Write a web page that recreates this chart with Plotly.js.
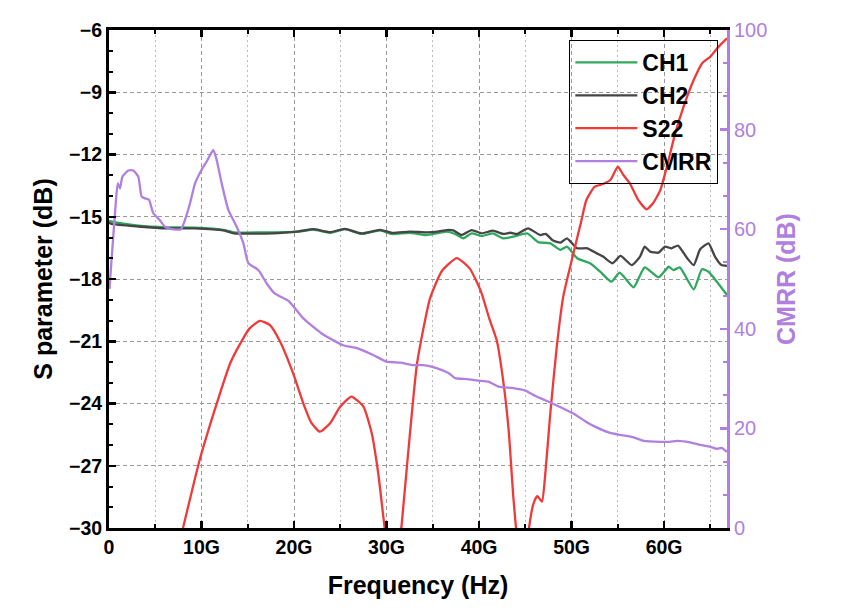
<!DOCTYPE html>
<html>
<head>
<meta charset="utf-8">
<script src="https://cdn.plot.ly/plotly-3.0.1.min.js"></script>
<style>
  html, body { margin: 0; padding: 0; background: #fff; }
  #chart { width: 854px; height: 611px; }
</style>
</head>
<body>
<div id="chart"></div>
<script>
// Frequencies in GHz
const ch1Freq = [0, 0.3, 3.2, 6.2, 9.3, 12.5, 13.5, 17.7, 20.5, 22.1, 23.9, 25.5, 27.3, 29.3, 30.6, 32.5, 34.3, 36.5, 37.4, 38.3, 39.2, 40.3, 41.5, 42.6, 43.7, 45.2, 46.4, 47.7, 48.8, 49.5, 50.6, 52.0, 53.1, 54.3, 55.2, 56.7, 57.9, 59.4, 60.5, 61.0, 61.7, 63.2, 64.1, 64.8, 65.7, 66.8];
const ch1Vals = [-15.2, -15.24, -15.43, -15.51, -15.53, -15.64, -15.75, -15.75, -15.72, -15.62, -15.77, -15.6, -15.83, -15.66, -15.83, -15.77, -15.88, -15.72, -15.83, -16.04, -15.8, -15.93, -15.8, -16.04, -15.96, -15.8, -16.22, -16.28, -16.6, -16.44, -17.0, -17.24, -17.65, -18.13, -17.69, -18.4, -17.44, -17.92, -17.41, -17.57, -17.44, -18.5, -17.53, -17.65, -18.13, -18.77];

const ch2Freq = [0, 0.3, 3.2, 6.2, 9.3, 12.5, 13.5, 17.7, 20.5, 22.1, 23.9, 25.5, 27.3, 29.3, 30.6, 32.5, 34.3, 35.5, 36.5, 37.2, 38.1, 39.2, 40.3, 41.5, 42.6, 43.4, 44.1, 45.3, 46.6, 47.2, 48.0, 48.8, 49.5, 50.6, 51.7, 52.7, 53.4, 54.4, 55.3, 56.5, 57.4, 57.9, 58.5, 59.4, 60.1, 60.8, 61.5, 62.5, 63.2, 63.9, 64.8, 65.5, 66.2, 66.8];
const ch2Vals = [-15.28, -15.35, -15.47, -15.56, -15.56, -15.67, -15.8, -15.8, -15.7, -15.6, -15.74, -15.58, -15.8, -15.63, -15.78, -15.72, -15.75, -15.72, -15.64, -15.66, -15.88, -15.64, -15.8, -15.67, -15.83, -15.77, -15.83, -15.56, -15.88, -15.83, -16.15, -16.25, -16.04, -16.52, -16.52, -16.76, -16.92, -17.24, -16.89, -17.33, -16.92, -16.44, -16.68, -16.73, -16.44, -16.52, -16.39, -17.0, -17.33, -16.57, -16.28, -16.92, -17.33, -17.37];

// S22 dips below the -30 dB floor twice; those points sit outside the axis range
const s22Freq = [8.0, 9.8, 11.6, 13.1, 14.2, 15.2, 16.3, 17.4, 18.5, 19.9, 21.0, 21.9, 22.8, 23.9, 25.0, 26.2, 27.5, 28.4, 29.1, 29.65, 30.2, 30.7, 31.2, 31.6, 32.2, 33.3, 34.7, 36.0, 37.6, 39.0, 40.2, 41.1, 41.9, 42.6, 43.2, 43.7, 44.1, 44.8, 45.4, 45.9, 46.3, 46.8, 47.1, 47.7, 48.4, 49.1, 50.2, 51.0, 51.6, 52.5, 53.4, 54.2, 55.0, 55.6, 56.3, 57.2, 58.1, 58.8, 59.6, 60.3, 61.2, 62.1, 63.2, 64.1, 65.0, 65.9, 66.8];
const s22Vals = [-30.0, -26.72, -24.07, -22.06, -21.1, -20.38, -20.02, -20.22, -21.02, -22.54, -23.99, -24.95, -25.36, -24.95, -24.15, -23.67, -24.15, -25.43, -27.36, -29.45, -31.5, -33.0, -31.5, -30.0, -27.05, -22.06, -18.93, -17.6, -16.99, -17.5, -18.6, -19.9, -20.94, -22.87, -25.28, -28.49, -30.5, -33.0, -30.0, -28.8, -28.46, -28.73, -27.69, -24.47, -21.26, -18.85, -16.76, -15.3, -14.19, -13.55, -13.42, -13.23, -12.59, -12.99, -13.39, -14.19, -14.64, -14.35, -13.71, -12.59, -10.98, -9.7, -8.41, -7.61, -7.28, -6.8, -6.4];

const cmrrFreq = [0.05, 0.3, 0.65, 0.94, 1.19, 1.44, 2.09, 2.63, 3.17, 3.53, 3.9, 4.32, 4.79, 5.5, 6.05, 6.77, 7.78, 8.2, 8.76, 9.3, 10.0, 10.56, 11.28, 11.64, 12.18, 12.9, 13.8, 14.52, 15.06, 16.14, 17.05, 17.9, 19.4, 21.0, 23.2, 25.3, 26.8, 28.6, 30.0, 31.5, 32.9, 34.0, 35.4, 36.7, 37.4, 38.7, 39.9, 41.0, 42.1, 43.7, 45.0, 46.1, 47.7, 49.1, 50.2, 51.6, 52.7, 54.0, 55.2, 56.7, 57.8, 59.6, 60.6, 61.4, 62.8, 63.9, 65.0, 65.7, 66.2, 66.8];
const cmrrVals = [48.0, 54.5, 63.2, 69.2, 68.2, 70.5, 71.8, 71.8, 70.5, 66.5, 66.2, 65.9, 63.2, 61.8, 60.5, 60.0, 60.0, 61.8, 65.2, 69.2, 71.9, 73.6, 75.9, 73.9, 69.2, 63.9, 60.5, 57.2, 53.2, 51.8, 49.1, 47.1, 45.6, 42.1, 38.8, 36.7, 36.1, 34.7, 33.4, 33.2, 32.7, 32.7, 32.1, 31.1, 30.1, 29.9, 29.6, 29.4, 28.4, 28.1, 27.6, 26.5, 25.2, 24.0, 23.0, 21.3, 20.2, 19.2, 18.7, 18.2, 17.5, 17.3, 17.3, 17.5, 17.2, 16.7, 16.3, 15.9, 16.1, 15.3];

const FONT = 'Liberation Sans, Arial, sans-serif';
const PURPLE = '#b07fe0';
const toHz = arr => arr.map(f => f * 1e9);

function series(freq, vals, name, color, yaxis) {
    return {
        x: toHz(freq),
        y: vals,
        name: name,
        type: 'scatter',
        mode: 'lines',
        yaxis: yaxis || 'y',
        line: { color: color, width: 2.3, shape: 'spline', smoothing: 0.5 }
    };
}

const data = [
    series(ch1Freq, ch1Vals, 'CH1', '#2fa85e'),
    series(ch2Freq, ch2Vals, 'CH2', '#454545'),
    series(s22Freq, s22Vals, 'S22', '#f03a3a'),
    series(cmrrFreq, cmrrVals, 'CMRR', PURPLE, 'y2')
];

const layout = {
    width: 854,
    height: 611,
    margin: { l: 109, r: 127, t: 30, b: 83 },
    paper_bgcolor: '#fff',
    plot_bgcolor: '#fff',
    font: { family: FONT, size: 16, color: '#000' },
    showlegend: true,
    // legend box is see-through in the original: S22 runs across it
    legend: {
        x: 0.986, xanchor: 'right',
        y: 0.98, yanchor: 'top',
        bgcolor: 'rgba(0,0,0,0)',
        bordercolor: '#000',
        borderwidth: 1,
        itemwidth: 62,
        tracegroupgap: 0,
        font: { family: FONT, size: 23, color: '#000', weight: 'bold' }
    },
    xaxis: {
        range: [0, 66.8e9],
        dtick: 10e9,
        exponentformat: 'SI',
        ticks: 'inside',
        ticklen: 7,
        tickwidth: 2.5,
        tickcolor: '#000',
        showline: true,
        linecolor: '#000',
        linewidth: 3,
        mirror: 'ticks',
        showgrid: true,
        gridcolor: '#999',
        griddash: '4px,3px',
        gridwidth: 1,
        zeroline: false,
        minor: {
            dtick: 5e9,
            ticks: 'inside',
            ticklen: 4,
            tickwidth: 2,
            tickcolor: '#000',
            showgrid: true,
            gridcolor: '#bbb',
            griddash: '2px,3px',
            gridwidth: 1
        },
        tickfont: { family: FONT, size: 19.5, color: '#000', weight: 'bold' },
        title: {
            text: 'Frequency (Hz)',
            standoff: 20,
            font: { family: FONT, size: 25, color: '#000', weight: 'bold' }
        }
    },
    yaxis: {
        range: [-30, -6],
        dtick: 3,
        ticks: 'inside',
        ticklen: 7,
        tickwidth: 2.5,
        tickcolor: '#000',
        showline: true,
        linecolor: '#000',
        linewidth: 3,
        mirror: false,
        showgrid: true,
        gridcolor: '#999',
        griddash: '4px,3px',
        gridwidth: 1,
        zeroline: false,
        minor: {
            dtick: 1,
            ticks: 'inside',
            ticklen: 4,
            tickwidth: 2,
            tickcolor: '#000',
            showgrid: false
        },
        tickfont: { family: FONT, size: 19.5, color: '#000', weight: 'bold' },
        title: {
            text: 'S parameter (dB)',
            standoff: 10,
            font: { family: FONT, size: 25, color: '#000', weight: 'bold' }
        }
    },
    yaxis2: {
        overlaying: 'y',
        side: 'right',
        range: [0, 100],
        dtick: 20,
        ticks: 'inside',
        ticklen: 7,
        tickwidth: 2.5,
        tickcolor: PURPLE,
        showline: true,
        linecolor: PURPLE,
        linewidth: 3,
        showgrid: false,
        zeroline: false,
        minor: {
            dtick: 20 / 3,
            ticks: 'inside',
            ticklen: 4,
            tickwidth: 2,
            tickcolor: PURPLE,
            showgrid: false
        },
        tickfont: { family: FONT, size: 20, color: PURPLE },
        title: {
            text: 'CMRR (dB)',
            standoff: 12,
            font: { family: FONT, size: 25, color: PURPLE, weight: 'bold' }
        }
    }
};

Plotly.newPlot('chart', data, layout, { displayModeBar: false, staticPlot: true });
</script>
</body>
</html>
